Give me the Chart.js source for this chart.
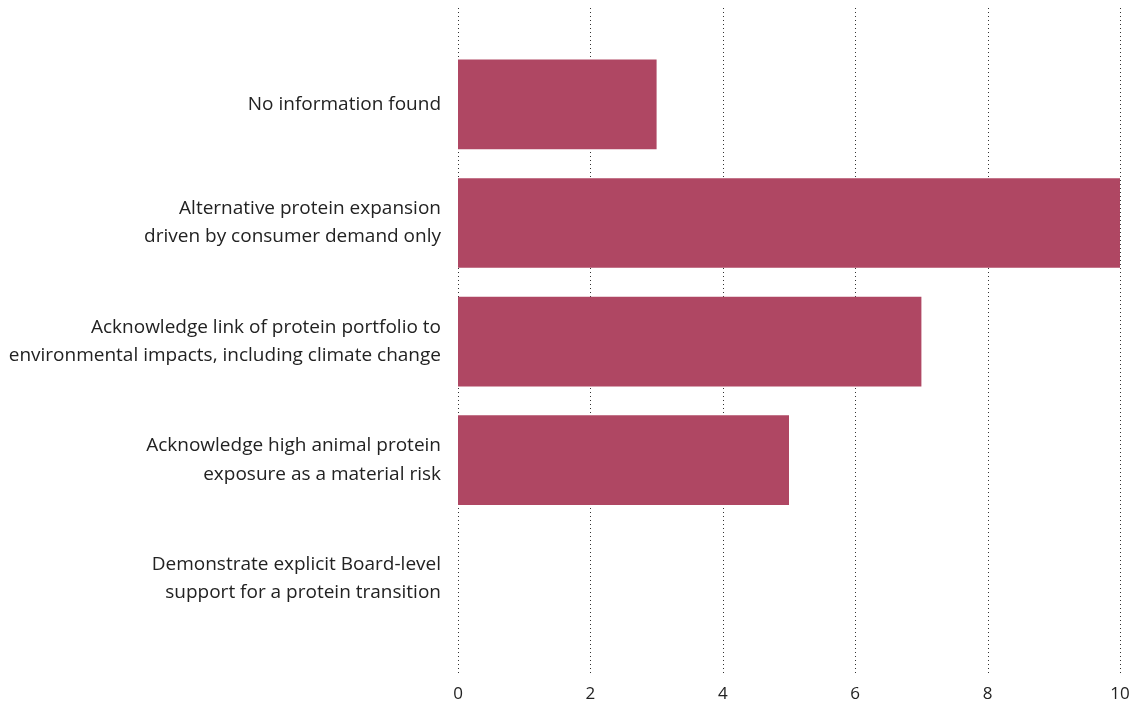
<!DOCTYPE html>
<html>
<head>
<meta charset="utf-8">
<script src="https://cdn.jsdelivr.net/npm/chart.js@4/dist/chart.umd.min.js"></script>
<style>
  html, body { margin: 0; padding: 0; background: #fff; overflow: hidden; }
</style>
</head>
<body>
<canvas id="chart" width="1141" height="705"></canvas>
<script>
const categories = [
    ['No information found'],
    ['Alternative protein expansion', 'driven by consumer demand only'],
    ['Acknowledge link of protein portfolio to', 'environmental impacts, including climate change'],
    ['Acknowledge high animal protein', 'exposure as a material risk'],
    ['Demonstrate explicit Board-level', 'support for a protein transition']
];
const companyCounts = [3, 10, 7, 5, 0];
const xTicks = [0, 2, 4, 6, 8, 10];

const BAR_COLOR = '#AF4763';
const TEXT_COLOR = '#222';
const FONT = '"Open Sans", Lato, sans-serif';

// dotted vertical lines at each x tick, running past the bar area
const dottedGrid = {
    id: 'dottedGrid',
    beforeDatasetsDraw(chart) {
        const ctx = chart.ctx;
        const x = chart.scales.x;
        ctx.save();
        ctx.strokeStyle = '#333';
        ctx.lineWidth = 1;
        ctx.setLineDash([1, 3]);
        xTicks.forEach(function (v) {
            const px = Math.round(x.getPixelForValue(v)) + 0.5;
            ctx.beginPath();
            ctx.moveTo(px, 8);
            ctx.lineTo(px, 674);
            ctx.stroke();
        });
        ctx.restore();
    }
};

new Chart(document.getElementById('chart').getContext('2d'), {
    type: 'bar',
    data: {
        labels: categories,
        datasets: [{
            data: companyCounts,
            backgroundColor: BAR_COLOR,
            borderWidth: 0,
            barPercentage: 0.756,
            categoryPercentage: 1
        }]
    },
    options: {
        indexAxis: 'y',
        responsive: false,
        animation: false,
        layout: {
            padding: { top: 42, right: 0, bottom: 0, left: 0 }
        },
        plugins: {
            legend: { display: false },
            tooltip: { enabled: false }
        },
        scales: {
            x: {
                min: 0,
                max: 10,
                afterBuildTicks: function (scale) {
                    scale.ticks = xTicks.map(function (v) { return { value: v }; });
                },
                afterFit: function (scale) {
                    scale.height = 67;
                    scale.paddingRight = 21;
                },
                grid: { display: false, drawTicks: false },
                border: { display: false },
                ticks: {
                    color: TEXT_COLOR,
                    padding: 46,
                    maxRotation: 0,
                    font: { family: FONT, size: 17 }
                }
            },
            y: {
                afterFit: function (scale) { scale.width = 458; },
                grid: { display: false, drawTicks: false },
                border: { display: false },
                ticks: {
                    color: TEXT_COLOR,
                    padding: 17,
                    font: { family: FONT, size: 19, lineHeight: 1.48 }
                }
            }
        }
    },
    plugins: [dottedGrid]
});
</script>
</body>
</html>
